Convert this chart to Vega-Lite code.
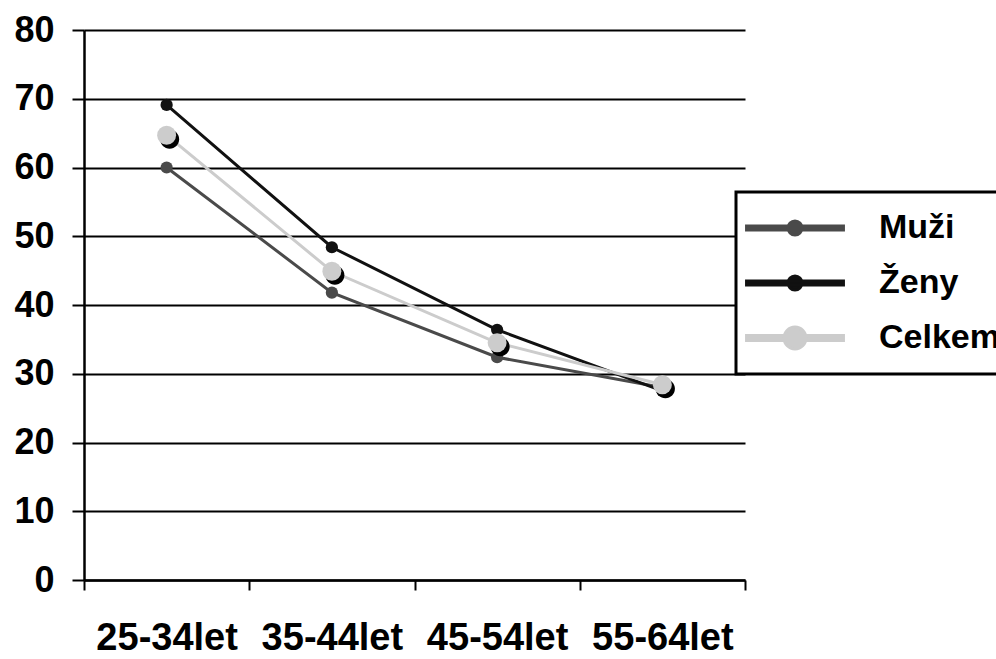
{
  "$schema": "https://vega.github.io/schema/vega-lite/v6.json",
  "autosize": {"type": "none"},
  "width": 661,
  "height": 550,
  "padding": {"left": 84, "top": 30, "right": 251, "bottom": 79},
  "background": "white",
  "config": {
    "view": {"stroke": null},
    "font": "Liberation Sans"
  },
  "data": {
    "values": [
      {"age": "25-34let", "series": "Muži", "value": 60.0},
      {"age": "35-44let", "series": "Muži", "value": 41.8},
      {"age": "45-54let", "series": "Muži", "value": 32.4},
      {"age": "55-64let", "series": "Muži", "value": 28.0},
      {"age": "25-34let", "series": "Ženy", "value": 69.1},
      {"age": "35-44let", "series": "Ženy", "value": 48.4},
      {"age": "45-54let", "series": "Ženy", "value": 36.4},
      {"age": "55-64let", "series": "Ženy", "value": 27.5},
      {"age": "25-34let", "series": "Celkem", "value": 64.7},
      {"age": "35-44let", "series": "Celkem", "value": 44.9},
      {"age": "45-54let", "series": "Celkem", "value": 34.5},
      {"age": "55-64let", "series": "Celkem", "value": 28.4}
    ]
  },
  "encoding": {
    "x": {
      "field": "age", "type": "nominal", "sort": null,
      "scale": {"paddingInner": 0, "paddingOuter": 0},
      "axis": {
        "title": null, "labelAngle": 0, "domainColor": "black", "domainWidth": 2.5,
        "tickColor": "black", "tickWidth": 2, "tickSize": 10, "tickBand": "extent",
        "labelFont": "Liberation Sans", "labelFontWeight": "bold", "labelFontSize": 38,
        "labelColor": "black", "labelPadding": 29, "grid": false
      }
    },
    "y": {
      "field": "value", "type": "quantitative",
      "scale": {"domain": [0, 80]},
      "axis": {
        "title": null, "values": [0, 10, 20, 30, 40, 50, 60, 70, 80],
        "domainColor": "black", "domainWidth": 2.5,
        "tickColor": "black", "tickWidth": 2, "tickSize": 12,
        "grid": true, "gridColor": "black", "gridWidth": 2, "gridOpacity": 1,
        "labelFont": "Liberation Sans", "labelFontWeight": "bold", "labelFontSize": 36,
        "labelColor": "black", "labelPadding": 18
      }
    }
  },
  "layer": [
    {
      "mark": {"type": "point", "filled": true, "opacity": 0},
      "encoding": {
        "color": {"field": "series", "type": "nominal",
          "scale": {"domain": ["Muži", "Ženy", "Celkem"], "range": ["#4a4a4a", "#111111", "#cccccc"]},
          "legend": {
            "title": null, "orient": "none", "legendX": 652, "legendY": 162,
            "symbolSize": 900, "symbolStrokeWidth": 0, "symbolOpacity": 1, "symbolOffset": 23,
            "labelFont": "Liberation Sans", "labelFontWeight": "bold", "labelFontSize": 34,
            "labelColor": "black", "labelOffset": 67,
            "strokeColor": "black", "fillColor": "white",
            "padding": 19, "cornerRadius": 0, "rowPadding": 21,
            "encode": {"legend": {"update": {"strokeWidth": {"value": 3}}}}
          }},
        "shape": {"field": "series", "type": "nominal",
          "scale": {"domain": ["Muži", "Ženy", "Celkem"], "range": [
            "M-3.23,-0.13H3.23V0.13H-3.23Z M-0.47,0A0.47,0.47 0 1,1 0.47,0A0.47,0.47 0 1,1 -0.47,0Z",
            "M-3.23,-0.13H3.23V0.13H-3.23Z M-0.47,0A0.47,0.47 0 1,1 0.47,0A0.47,0.47 0 1,1 -0.47,0Z",
            "M-3.23,-0.17H3.23V0.17H-3.23Z M-0.73,0A0.73,0.73 0 1,1 0.73,0A0.73,0.73 0 1,1 -0.73,0Z"
          ]},
          "legend": {
            "title": null, "orient": "none", "legendX": 652, "legendY": 162,
            "symbolSize": 900, "symbolStrokeWidth": 0, "symbolOpacity": 1, "symbolOffset": 23,
            "labelFont": "Liberation Sans", "labelFontWeight": "bold", "labelFontSize": 34,
            "labelColor": "black", "labelOffset": 67,
            "strokeColor": "black", "fillColor": "white",
            "padding": 19, "cornerRadius": 0, "rowPadding": 21,
            "encode": {"legend": {"update": {"strokeWidth": {"value": 3}}}}
          }}
      }
    },
    {
      "mark": {"type": "line"},
      "encoding": {
        "color": {"field": "series", "type": "nominal"},
        "strokeWidth": {"field": "series", "type": "nominal", "legend": null,
          "scale": {"domain": ["Muži", "Ženy", "Celkem"], "range": [3, 3, 6]}}
      }
    },
    {
      "transform": [{"filter": "datum.series !== 'Celkem'"}],
      "mark": {"type": "point", "filled": true, "opacity": 1, "size": 150},
      "encoding": {
        "color": {"field": "series", "type": "nominal"}
      }
    },
    {
      "transform": [{"filter": "datum.series === 'Celkem'"}],
      "mark": {"type": "point", "filled": true, "opacity": 1, "size": 360, "color": "black",
        "shape": "M-0.68,0.42A1,1 0 1,0 1.32,0.42A1,1 0 1,0 -0.68,0.42Z"}
    },
    {
      "transform": [{"filter": "datum.series === 'Celkem'"}],
      "mark": {"type": "point", "filled": true, "opacity": 1, "size": 360, "color": "#cccccc"}
    }
  ]
}
